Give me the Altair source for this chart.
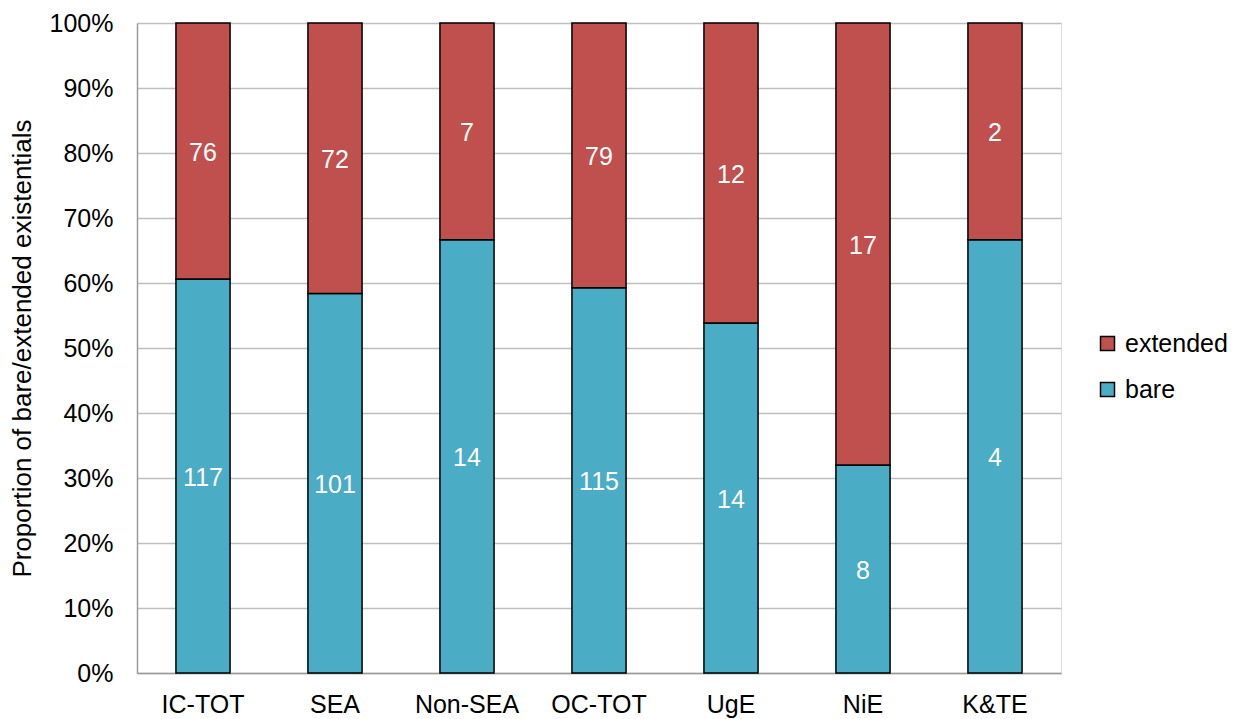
import altair as alt
import pandas as pd

# Counts of bare vs. extended existentials per corpus / variety
categories = ["IC-TOT", "SEA", "Non-SEA", "OC-TOT", "UgE", "NiE", "K&TE"]
bare = [117, 101, 14, 115, 14, 8, 4]
extended = [76, 72, 7, 79, 12, 17, 2]

legend_order = ["extended", "bare"]
legend_colors = ["#C0504D", "#4BACC6"]
y_ticks = [i / 10 for i in range(11)]

rows = []
for cat, b, e in zip(categories, bare, extended):
    rows.append({"cat": cat, "type": "bare", "order": 0, "count": b})
    rows.append({"cat": cat, "type": "extended", "order": 1, "count": e})
df = pd.DataFrame(rows)

FONT = "Liberation Sans"
FS = 25

base = alt.Chart(df).transform_stack(
    stack="count",
    groupby=["cat"],
    sort=[alt.SortField("order", order="ascending")],
    as_=["y0", "y1"],
    offset="normalize",
).transform_calculate(mid="(datum.y0 + datum.y1) / 2")

x_enc = alt.X(
    "cat:N",
    sort=categories,
    title=None,
    scale=alt.Scale(paddingInner=0.59, paddingOuter=0.295),
    axis=alt.Axis(
        labelAngle=0,
        labelFontSize=FS,
        labelFont=FONT,
        labelColor="#000000",
        labelPadding=19,
        ticks=False,
        domainColor="#9A9A9A",
        domainWidth=1.5,
        grid=False,
    ),
)

y_scale = alt.Scale(domain=[0, 1], nice=False)

bars = base.mark_bar(stroke="#000000", strokeWidth=1.5).encode(
    x=x_enc,
    y=alt.Y(
        "y0:Q",
        scale=y_scale,
        title="Proportion of bare/extended existentials",
        axis=alt.Axis(
            values=y_ticks,
            format=".0%",
            labelFontSize=FS,
            labelFont=FONT,
            labelColor="#000000",
            labelPadding=24,
            ticks=False,
            domainColor="#9A9A9A",
            domainWidth=1.5,
            gridColor="#BFBFBF",
            gridWidth=1.5,
            titleFont=FONT,
            titleFontSize=26,
            titleFontWeight="normal",
            titleColor="#000000",
            titlePadding=14,
        ),
    ),
    y2="y1:Q",
    color=alt.Color(
        "type:N",
        scale=alt.Scale(domain=legend_order, range=legend_colors),
        legend=alt.Legend(
            title=None,
            orient="none",
            legendX=958,
            legendY=308,
            symbolType="square",
            symbolSize=196,
            symbolStrokeColor="#000000",
            symbolStrokeWidth=1.5,
            labelFontSize=FS,
            labelFont=FONT,
            labelColor="#000000",
            labelLimit=300,
            rowPadding=20,
            labelOffset=5,
        ),
    ),
)

labels = base.mark_text(color="#FFFFFF", fontSize=FS, font=FONT, dy=2).encode(
    x=alt.X("cat:N", sort=categories),
    y=alt.Y("mid:Q", scale=y_scale),
    text="count:Q",
)

chart = (
    alt.layer(bars, labels)
    .properties(
        width=924,
        height=650,
        padding={"left": 137, "top": 23, "right": 173, "bottom": 46},
        autosize=alt.AutoSizeParams(type="none"),
    )
    .configure_view(stroke=None)
    .configure(background="#FFFFFF")
)

chart.save("out.html", embed_options={"renderer": "svg", "actions": False})
